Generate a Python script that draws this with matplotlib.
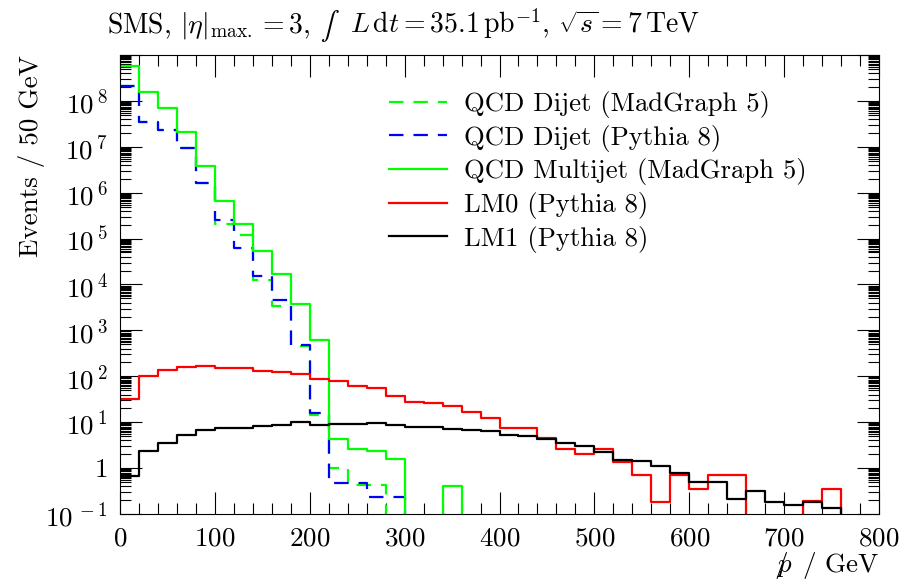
import numpy as np
import matplotlib
matplotlib.use("Agg")
import matplotlib.pyplot as plt
from matplotlib.ticker import MultipleLocator, FuncFormatter, LogLocator, NullFormatter
from matplotlib.offsetbox import TextArea, HPacker, AnchoredOffsetbox

# ==============================
# DATA (20 GeV bins, 0 - 800 GeV)
# ==============================

bin_edges = np.arange(0, 820, 20)

qcd_dijet_mg5 = [2.1e8, 3.5e7, 2.3e7, 9.5e6, 1.6e6, 2.1e5, 1.2e5, 1.25e4, 3.4e3, 450,
                 14, 1.0, 0.43, 0.43, 0, 0, 0, 0, 0, 0,
                 0, 0, 0, 0, 0, 0, 0, 0, 0, 0,
                 0, 0, 0, 0, 0, 0, 0, 0, 0, 0]

qcd_dijet_py8 = [2.1e8, 3.5e7, 2.3e7, 9.5e6, 1.6e6, 2.5e5, 6.3e4, 1.5e4, 4.5e3, 470,
                 15.5, 0.47, 0.47, 0.23, 0.23, 0, 0, 0, 0, 0,
                 0, 0, 0, 0, 0, 0, 0, 0, 0, 0,
                 0, 0, 0, 0, 0, 0, 0, 0, 0, 0]

qcd_multijet_mg5 = [5.9e8, 1.6e8, 7e7, 2.1e7, 3.8e6, 6.5e5, 2.1e5, 5.5e4, 1.7e4, 3.8e3,
                    630, 4.4, 2.6, 2.3, 1.56, 0, 0, 0.41, 0, 0,
                    0, 0, 0, 0, 0, 0, 0, 0, 0, 0,
                    0, 0, 0, 0, 0, 0, 0, 0, 0, 0]

lm0_py8 = [32, 102, 138, 162, 168, 152, 150, 132, 122, 112,
           88, 78, 62, 55, 38, 28, 26, 22, 17, 12.6,
           7.4, 7.6, 4.5, 2.6, 2.0, 2.6, 1.35, 0.71, 0.18, 0.71,
           0.35, 0.71, 0.71, 0, 0, 0, 0.19, 0.35, 0, 0]

lm1_py8 = [0.68, 2.4, 3.6, 5.3, 6.8, 7.6, 7.4, 8.3, 8.8, 10,
           8.7, 9.0, 9.0, 9.8, 8.8, 7.9, 7.9, 7.0, 6.9, 6.5,
           5.3, 5.0, 4.4, 3.6, 3.0, 2.2, 1.5, 1.43, 1.11, 0.77,
           0.50, 0.50, 0.21, 0.31, 0.18, 0.16, 0.18, 0.137, 0, 0]

SERIES = [
    ("QCD Dijet (MadGraph 5)", qcd_dijet_mg5, "#00ff00", "dashed"),
    ("QCD Dijet (Pythia 8)", qcd_dijet_py8, "#0000ff", "dashed"),
    ("QCD Multijet (MadGraph 5)", qcd_multijet_mg5, "#00ff00", "solid"),
    ("LM0 (Pythia 8)", lm0_py8, "#ff0000", "solid"),
    ("LM1 (Pythia 8)", lm1_py8, "#000000", "solid"),
]

# ==============================
# STYLE
# ==============================

plt.rcParams["font.family"] = ["cmr10", "DejaVu Serif"]
plt.rcParams["mathtext.fontset"] = "cm"
plt.rcParams["axes.formatter.use_mathtext"] = True
plt.rcParams["axes.unicode_minus"] = False

FS = 19.5
LEG_FS = 19.2
TITLE_FS = 20


def log_label(v, pos):
    e = int(round(np.log10(v)))
    if e == 0:
        return "$1$"
    if e >= 9:
        return ""
    return r"$10^{\,%d}$" % e


# ==============================
# PLOT
# ==============================

fig = plt.figure(figsize=(9.08, 5.86), dpi=100)
ax = fig.add_axes([120 / 908, 1 - 514 / 586, 759 / 908, 459 / 586])

for label, vals, color, style in SERIES:
    y = np.append(vals, vals[-1])
    ls = (0, (6.5, 4.5)) if style == "dashed" else "-"
    ax.step(bin_edges, y, where="post", color=color, lw=1.6, linestyle=ls, label=label)

ax.set_yscale("log")
ax.set_xlim(0, 800)
ax.set_ylim(0.1, 1e9)

ax.xaxis.set_major_locator(MultipleLocator(100))
ax.xaxis.set_minor_locator(MultipleLocator(20))
ax.yaxis.set_major_locator(LogLocator(base=10, numticks=20))
ax.yaxis.set_minor_locator(LogLocator(base=10, subs=[2, 3, 4, 5, 5.5, 6, 6.5, 7, 7.5, 8, 8.5, 9, 9.5], numticks=200))
ax.yaxis.set_major_formatter(FuncFormatter(log_label))
ax.yaxis.set_minor_formatter(NullFormatter())

ax.tick_params(which="both", direction="in", top=True, right=True, labelsize=FS, width=0.8)
ax.tick_params(which="major", length=16, pad=9)
ax.tick_params(which="minor", length=8)
for s in ax.spines.values():
    s.set_linewidth(0.8)

# slashed p: overlay the slash on the p with negative spacing
ax.set_xlabel(r"$p\!\!\!\!\!\!\!\!\!\;\;\:/\ \ /\ \mathrm{GeV}$", fontsize=FS, loc="right", labelpad=0)
ax.set_ylabel("Events / 50 GeV", fontsize=FS, loc="top", labelpad=0)

# title, built from pieces so the integral sign keeps text size
title_parts = [
    TextArea(r"SMS, $|\eta|_{\mathrm{max.}} = 3$,", textprops=dict(fontsize=TITLE_FS)),
    TextArea(r"$\int$", textprops=dict(fontsize=TITLE_FS, math_fontfamily="stix")),
    TextArea(r"$L\,\mathrm{d}t = 35.1\,\mathrm{pb}^{-1}$, $\sqrt{s} = 7\,\mathrm{TeV}$",
             textprops=dict(fontsize=TITLE_FS)),
]
title_box = HPacker(children=title_parts, align="baseline", pad=0, sep=7)
fig.add_artist(AnchoredOffsetbox(loc="center left", child=title_box, frameon=False, pad=0, borderpad=0,
                                 bbox_to_anchor=(107 / 908, 1 - 25 / 586),
                                 bbox_transform=fig.transFigure))

ax.legend(loc="upper left", bbox_to_anchor=(0.34, 0.945), frameon=False, fontsize=LEG_FS,
          handlelength=2.2, handletextpad=0.64, labelspacing=0.25, borderaxespad=0)

fig.savefig("out.png", dpi=100)
